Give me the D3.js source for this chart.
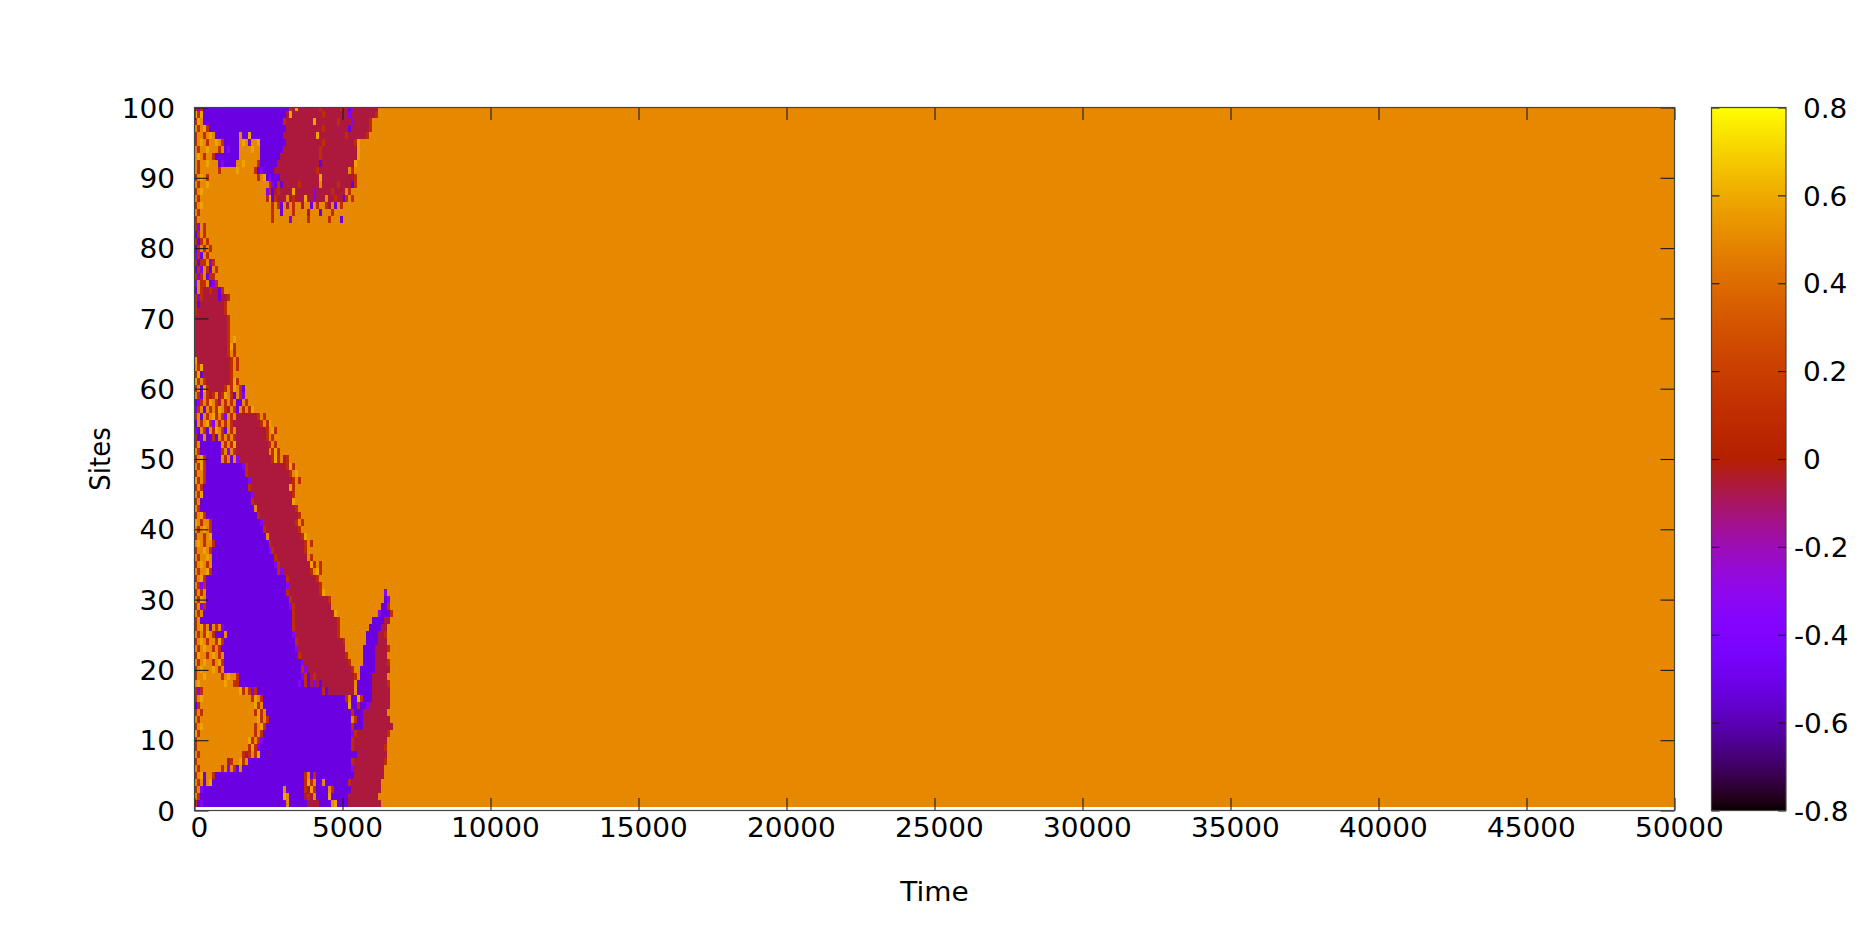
<!DOCTYPE html>
<html>
<head>
<meta charset="utf-8">
<script src="https://cdn.jsdelivr.net/npm/d3@7"></script>
<style>
  html,body{margin:0;padding:0;background:#fff;}
  svg{display:block;}
  text{font-family:"DejaVu Sans",sans-serif;fill:#000;}
</style>
</head>
<body>
<svg id="chart" width="1868" height="936"></svg>
<script>
// ---------------- data ----------------
const timeDomain = [0, 50000];
const siteDomain = [0, 100];
const cbDomain = [-0.8, 0.8];
const xTicks = [0, 5000, 10000, 15000, 20000, 25000, 30000, 35000, 40000, 45000, 50000];
const yTicks = [0, 10, 20, 30, 40, 50, 60, 70, 80, 90, 100];
const cbTicks = [-0.8, -0.6, -0.4, -0.2, 0, 0.2, 0.4, 0.6, 0.8];
const xTitle = "Time";
const yTitle = "Sites";

// value of each state letter used in the run strings below
const stateValues = {P: -0.52, V: -0.38, C: -0.06, R: 0.10, O: 0.50, Y: 0.58};
const baseValue = 0.50;        // value every site settles to
const cellSpan = 100;          // time units covered by one letter of a run string

// run strings, one per site (letter = state, number = how many cells)
const rowsSites100to84 = [
  "R V R P29 R C Y C7 R C6 R C2 P V C8",
  "Y R Y P28 C Y C10 R C8 V C8 R",
  "R Y O P27 R C9 Y C7 R C4 V C5 R",
  "O R O Y R P26 C12 R C8 P C6 R",
  "R O O R O Y O P8 O P2 Y P11 C11 Y C9 R C6 R",
  "R O Y O R O O Y O R P5 O Y O P O O Y P9 C12 R C10 R Y",
  "O R O O Y O O O R O P V P3 O4 Y O2 P8 C12 R C12 Y",
  "O Y O R O O R P8 O7 P7 C13 R C12 Y",
  "O R O O Y O O O P V P4 O O Y O4 R P6 C14 P C11 Y",
  "O R O6 R O5 Y O5 R P V P4 C14 R C10 O R",
  "R O Y O R O16 R O Y P V P3 C13 Y C11 R",
  "O R O O Y O20 R V P R P C5 R C6 O C5 R C4 P R",
  "R O Y O O20 V R P C R C4 Y C6 V C5 R C4 O R",
  "O R O O21 R Y P R C3 O C R C3 Y C2 V C3 O C2 R C2 P R O R",
  "R O Y O23 R O R P O C O R O O C O O P O R O O R C O P O R",
  "O R O24 R O O P O O O R O O O O C O O O P O O O R",
  "R O25 R O3 O O V O5 R O6 R O3 P"
];
const rowsSites83to67 = [
  "R V O R",
  "P R O R",
  "R P R O R",
  "P R O R O R",
  "V R P O R O",
  "R P R R O V R",
  "P R V O R P O R",
  "R V R O P R R O",
  "V O R R O P V R O",
  "P O R C C R C C P R",
  "R V R C5 P C2 R",
  "R P C8 R",
  "R C9 R O",
  "C11 R",
  "C11 R O",
  "C11 R",
  "C11 R O Y"
];
const rowsSites66to50 = [
  "C11 R Y R",
  "C11 R O R",
  "Y C11 R O R",
  "O R Y C9 R O R",
  "R Y P C9 R O",
  "Y R O R C8 R Y R O",
  "R O P Y R C5 R O R Y O R P O",
  "O R P O R C R O C R Y O R P O R V",
  "P V R O R Y O R C O R O R O P P O R",
  "V R O P O R O R Y O R C O R P O R O R Y",
  "R O P O R O Y R O R V O R O C7 R O R",
  "P O R O Y R V O R O R O R C9 R O R Y",
  "V P O R P O R Y O R P O R O C10 R O Y R",
  "R P P O P P R P O R O R O R C10 R O R O",
  "R O P7 O R O R Y C11 R O R O",
  "O R P7 R O V O R C11 O R Y R",
  "R O Y R P5 O R O P O V C11 R Y R O C R"
];
const rowsSites49to34 = [
  "O R Y R P12 V R C13 R Y R",
  "R O O R P13 R C14 R O Y",
  "Y R O R P14 V C14 R O R",
  "R O R P15 R C13 Y R",
  "O R Y P16 V C13 R O",
  "R O P17 R C13 Y",
  "O R P18 O C13 R",
  "R O Y R P17 R C13 R",
  "Y O R O O R P16 V C11 R O R",
  "O R O Y O R P17 R C11 R",
  "R O O R O Y P18 O C11 R Y",
  "O Y O R O O R P18 R C11 R O R",
  "R O O Y O R P19 V R C10 R O",
  "O R O O Y O P21 R C10 O R",
  "R O Y O R O P21 V R C10 Y R O R",
  "O R O O Y R P22 R V C9 R O Y R"
];
const rowsSites33to17 = [
  "R O Y R P27 R C9 R O",
  "O R V R P27 V C10 R",
  "R O R O P27 R C10 R Y O20 V",
  "O R Y O P28 R C12 R O18 P V",
  "R O V R P28 V R C12 O17 P2 R",
  "O R O P30 R C13 Y O14 V P3 R",
  "R O P31 R C14 R O11 P4 C2",
  "R O Y R O P O R O V P23 R C14 R O10 P4 C2",
  "O R O R Y O R P3 O P22 V C14 R O9 P4 C2 R",
  "R O Y O R O O R Y R P24 R C15 R O7 P4 C3",
  "O R O Y O O R O R P25 V C16 O6 P4 C4 R",
  "R Y O O R O Y O R O P25 R C15 R O5 P4 C4",
  "O R O Y O O R O Y R P26 V C15 R O4 P4 C4 R",
  "R O Y O O O Y O R O P26 R V C15 R O2 P5 C5",
  "R O O Y O O O O O R O Y O O R P21 V R P C R C13 R O P4 C5",
  "O Y O O O O O O O O Y O O R R P20 V P R P C V C P C11 O P5 C5 R",
  "R V R O12 Y R O R V R P22 R P C9 O P5 C6"
];
const rowsSites16to1 = [
  "R O Y O16 R Y O R P28 R O P2 Y R P3 C6",
  "P R O O17 Y R O P29 Y P2 R P2 V C7",
  "R O R O17 R Y R O P29 R P3 C8",
  "O R O O18 Y R O R P28 O R P2 C9",
  "R O Y O17 R O Y R P29 R P3 C10",
  "Y R O O17 R O R P30 V R C10 R",
  "R O O16 Y R O R V P30 R C11",
  "R O O O15 R Y R V P31 R C10 R",
  "O R O14 R C R O R Y P33 C10",
  "R O O9 C R O O Y R O P35 R C10 R",
  "O R O7 R O V O R P O P37 V C10",
  "R O Y P O O R P30 R O P R P13 C10",
  "O R O P O Y P31 R Y R O P2 O P8 R C10",
  "R O V P27 O P6 R C Y R P4 O R P6 C10",
  "O R P P27 Y O P5 C R C O P4 Y P6 C10",
  "R P V P28 O P6 C4 P4 O Y P4 C11"
];

// ---------------- layout ----------------
const W = 1868, H = 936;
const plot = {left: 194.5, right: 1674.5, top: 107.5, bottom: 810.5};
const cbox = {left: 1711.5, right: 1786};
const fontSize = 26;
const sx = 1.075;                // horizontal stretch of the glyphs
const spaceW = 0.318 * fontSize * sx;

const svg = d3.select("#chart");

const x = d3.scaleLinear().domain(timeDomain).range([plot.left, plot.right]);
const y = d3.scaleLinear().domain(siteDomain).range([plot.bottom, plot.top]);
const cbY = d3.scaleLinear().domain(cbDomain).range([plot.bottom, plot.top]);

// gnuplot default pm3d palette (rgbformulae 7,5,15)
function gnuplotPalette(t) {
  t = Math.max(0, Math.min(1, t));
  const r = Math.sqrt(t), g = t * t * t, b = Math.max(0, Math.sin(2 * Math.PI * t));
  return d3.rgb(Math.round(r * 255), Math.round(g * 255), Math.round(b * 255)).formatHex();
}
const color = d3.scaleSequential(gnuplotPalette).domain(cbDomain);

// ---------------- heat map ----------------
const allRows = [].concat(rowsSites100to84, rowsSites83to67, rowsSites66to50,
                          rowsSites49to34, rowsSites33to17, rowsSites16to1);
const sites = d3.range(100, 0, -1);

function parseRow(str) {
  const runs = [];
  let c = 0;
  str.trim().split(/\s+/).forEach(tok => {
    const s = tok[0];
    const n = tok.length > 1 ? +tok.slice(1) : 1;
    runs.push({s: s, c0: c, c1: c + n});
    c += n;
  });
  return runs;
}

const cells = [];
allRows.forEach((str, i) => {
  const site = sites[i];
  parseRow(str).forEach(r => cells.push({site: site, t0: r.c0 * cellSpan, t1: r.c1 * cellSpan, v: stateValues[r.s]}));
});

svg.append("defs").append("clipPath").attr("id", "plotClip")
  .append("rect")
  .attr("x", plot.left).attr("y", plot.top)
  .attr("width", plot.right - plot.left).attr("height", plot.bottom - plot.top);

const heat = svg.append("g").attr("clip-path", "url(#plotClip)").attr("shape-rendering", "crispEdges");

const siteLo = 0.5, siteHi = 100;
heat.append("rect")
  .attr("x", x(timeDomain[0]))
  .attr("y", y(siteHi))
  .attr("width", x(timeDomain[1]) - x(timeDomain[0]))
  .attr("height", y(siteLo) - y(siteHi))
  .attr("fill", color(baseValue));

heat.selectAll("rect.cell").data(cells).join("rect")
  .attr("class", "cell")
  .attr("x", d => x(d.t0))
  .attr("width", d => x(d.t1) - x(d.t0))
  .attr("y", d => y(Math.min(d.site + 0.5, siteHi)))
  .attr("height", d => y(d.site - 0.5) - y(Math.min(d.site + 0.5, siteHi)))
  .attr("fill", d => color(d.v));

// ---------------- axes ----------------
const tickColor = "#1a1a1a";
function styleAxis(g) {
  g.select(".domain").remove();
  g.selectAll(".tick line").attr("stroke", tickColor).attr("stroke-width", 1.1);
}

// bottom
const gx = svg.append("g").attr("transform", `translate(0,${plot.bottom})`)
  .call(d3.axisBottom(x).tickValues(xTicks).tickSizeInner(-12.5).tickSizeOuter(0).tickFormat(d => String(d)));
styleAxis(gx);
gx.selectAll(".tick text")
  .attr("y", null).attr("dy", null)
  .attr("transform", `translate(${spaceW / 2},26.5) scale(${sx},1)`)
  .attr("text-anchor", "middle")
  .attr("font-size", fontSize).attr("fill", "#000");

// top mirror
const gxt = svg.append("g").attr("transform", `translate(0,${plot.top})`)
  .call(d3.axisTop(x).tickValues(xTicks).tickSizeInner(-12.5).tickSizeOuter(0).tickFormat(""));
styleAxis(gxt);
gxt.selectAll(".tick text").remove();

// left
const gy = svg.append("g").attr("transform", `translate(${plot.left},0)`)
  .call(d3.axisLeft(y).tickValues(yTicks).tickSizeInner(-14).tickSizeOuter(0).tickFormat(d => String(d)));
styleAxis(gy);
gy.selectAll(".tick text")
  .attr("x", null).attr("dy", "0.37em")
  .attr("transform", `translate(-19.5,0) scale(${sx},1)`)
  .attr("text-anchor", "end")
  .attr("font-size", fontSize).attr("fill", "#000");

// right mirror
const gyr = svg.append("g").attr("transform", `translate(${plot.right},0)`)
  .call(d3.axisRight(y).tickValues(yTicks).tickSizeInner(-14).tickSizeOuter(0).tickFormat(""));
styleAxis(gyr);
gyr.selectAll(".tick text").remove();

// plot border
svg.append("rect")
  .attr("x", plot.left).attr("y", plot.top)
  .attr("width", plot.right - plot.left).attr("height", plot.bottom - plot.top)
  .attr("fill", "none").attr("stroke", "#444").attr("stroke-width", 1.2);

// ---------------- colour box ----------------
const grad = svg.select("defs").append("linearGradient")
  .attr("id", "cbGrad").attr("x1", 0).attr("y1", 1).attr("x2", 0).attr("y2", 0);
d3.range(0, 129).forEach(i => {
  const f = i / 128;
  grad.append("stop").attr("offset", f).attr("stop-color", color(cbDomain[0] + f * (cbDomain[1] - cbDomain[0])));
});
svg.append("rect")
  .attr("x", cbox.left).attr("y", cbY(cbDomain[1]))
  .attr("width", cbox.right - cbox.left).attr("height", cbY(cbDomain[0]) - cbY(cbDomain[1]))
  .attr("fill", "url(#cbGrad)");

const gcl = svg.append("g").attr("transform", `translate(${cbox.left},0)`)
  .call(d3.axisLeft(cbY).tickValues(cbTicks).tickSizeInner(-8).tickSizeOuter(0).tickFormat(""));
styleAxis(gcl);
gcl.selectAll(".tick text").remove();

// gnuplot-style labels: plain hyphen for negatives
const fmt = d => (Math.abs(d) < 1e-9 ? "0" : d.toFixed(1));
const gcr = svg.append("g").attr("transform", `translate(${cbox.right},0)`)
  .call(d3.axisRight(cbY).tickValues(cbTicks).tickSizeInner(-8).tickSizeOuter(0).tickFormat(fmt));
styleAxis(gcr);
gcr.selectAll(".tick text")
  .attr("x", null).attr("dy", "0.37em")
  .attr("transform", d => `translate(${8 + (d < -1e-9 ? 0 : spaceW)},0) scale(${sx},1)`)
  .attr("text-anchor", "start")
  .attr("font-size", fontSize).attr("fill", "#000");

svg.append("rect")
  .attr("x", cbox.left).attr("y", cbY(cbDomain[1]))
  .attr("width", cbox.right - cbox.left).attr("height", cbY(cbDomain[0]) - cbY(cbDomain[1]))
  .attr("fill", "none").attr("stroke", "#444").attr("stroke-width", 1.2);

// ---------------- titles ----------------
svg.append("text")
  .attr("transform", `translate(${(plot.left + plot.right) / 2},901) scale(${sx},1)`)
  .attr("text-anchor", "middle").attr("font-size", fontSize)
  .text(xTitle);

svg.append("text")
  .attr("transform", `translate(110,${(plot.top + plot.bottom) / 2}) rotate(-90) scale(1,${sx})`)
  .attr("text-anchor", "middle").attr("font-size", fontSize)
  .text(yTitle);
</script>
</body>
</html>
